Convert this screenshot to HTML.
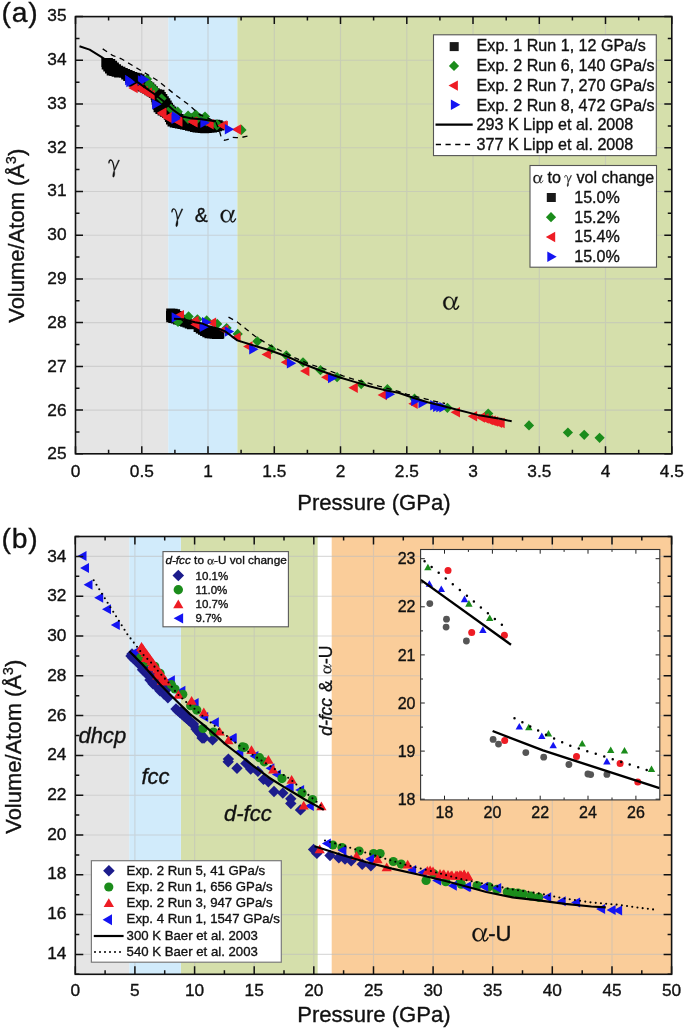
<!DOCTYPE html>
<html><head><meta charset="utf-8"><title>Figure</title>
<style>html,body{margin:0;padding:0;background:#fff;width:685px;height:1029px;overflow:hidden}svg{display:block;will-change:transform}text{stroke:#111;stroke-width:0.35px}</style>
</head><body>
<svg width="685" height="1029" viewBox="0 0 685 1029">
<rect x="75.5" y="16.6" width="92.8" height="437.2" fill="#e5e5e5"/>
<rect x="168.3" y="16.6" width="69.2" height="437.2" fill="#d1ebfb"/>
<rect x="237.4" y="16.6" width="434.4" height="437.2" fill="#d5dfab"/>
<g opacity="0.55"><path d="M141.8 16.6V453.8M208 16.6V453.8M274.3 16.6V453.8M340.5 16.6V453.8M406.8 16.6V453.8M473 16.6V453.8M539.3 16.6V453.8M605.5 16.6V453.8M75.5 410.1H671.8M75.5 366.4H671.8M75.5 322.6H671.8M75.5 278.9H671.8M75.5 235.2H671.8M75.5 191.5H671.8M75.5 147.8H671.8M75.5 104H671.8M75.5 60.3H671.8" stroke="rgb(190,190,190)" stroke-width="1.1" fill="none"/></g>
<path d="M103.3 69.6L103.3 71.5L105 71.5L105 73.4L106.7 73.4L106.7 75.4L109.2 75.4L109.2 75.9L111.6 75.9L111.6 76.8L114.1 76.8L114.1 77.5L119.1 77.5L119.1 77.8L121.1 77.8L121.1 78.1L121.2 78.1L121.2 79.5L123.2 79.5L123.2 81.1L125 81.1L125 82.9L126.8 82.9L126.8 84.8L128.5 84.8L128.5 86.7L130.7 86.7L130.7 88L133 88L133 89.2L135.3 89.2L135.3 90.4L137.6 90.4L137.6 91.5L139.9 91.5L139.9 92.6L142.3 92.6L142.3 93.8L144.4 93.8L144.4 95.2L146.6 95.2L146.6 96.6L148.8 96.6L148.8 98L150.6 98L150.6 99.7L151.2 99.7L151.2 102.2L151.7 102.2L151.7 104.7L152.3 104.7L152.3 107.3L152.9 107.3L152.9 109.8L153.6 109.8L153.6 112.2L155.4 112.2L155.4 114.1L157.6 114.1L157.6 115.4L159.9 115.4L159.9 116.7L162.1 116.7L162.1 118L163.8 118L163.8 119.8L164.9 119.8L164.9 122.1L166 122.1L166 124.5L167.5 124.5L167.5 126.6L169.8 126.6L169.8 127.5L172.3 127.5L172.3 128.1L174.8 128.1L174.8 128.6L177.4 128.6L177.4 129.1L179.9 129.1L179.9 129.6L182.4 129.6L182.4 130.1L185 130.1L185 130.7L187.5 130.7L187.5 131.3L190 131.3L190 132L192.5 132L192.5 132.5L195.1 132.5L195.1 132.8L197.7 132.8L197.7 133L200.2 133L200.2 133.2L209.2 133.2L209.2 133L211.8 133L211.8 132.7L214.4 132.7L214.4 132.4L217 132.4L217 131.9L219.5 131.9L219.5 131.3L222 131.3L222 130.6L224.5 130.6L224.5 121.6L222.7 121.6L222.7 120.2L220.2 120.2L220.2 119.7L210.2 119.7L210.2 118.5L208 118.5L208 117.1L205.8 117.1L205.8 115.8L203.6 115.8L203.6 114.5L201.1 114.5L201.1 113.8L198.6 113.8L198.6 113.6L189.6 113.6L189.6 114.3L187.1 114.3L187.1 115L185.9 115L185.9 114.9L183.7 114.9L183.7 113.9L181.8 113.9L181.8 112.1L180 112.1L180 110.2L178.2 110.2L178.2 108.4L176.3 108.4L176.3 106.6L174.5 106.6L174.5 104.8L173 104.8L173 102.7L171.7 102.7L171.7 100.4L170.3 100.4L170.3 98.3L168.8 98.3L168.8 96.2L167.3 96.2L167.3 94.1L165.8 94.1L165.8 91.9L164.5 91.9L164.5 89.8L161.9 89.8L161.9 89.3L159.7 89.3L159.7 88.2L157.9 88.2L157.9 86.3L156.2 86.3L156.2 84.4L154.3 84.4L154.3 82.6L152.2 82.6L152.2 81.1L150.2 81.1L150.2 79.5L148.1 79.5L148.1 77.9L146.3 77.9L146.3 76.1L144.5 76.1L144.5 74.2L142.3 74.2L142.3 73.2L139.7 73.2L139.7 72.8L137.3 72.8L137.3 72L134.8 72L134.8 71L132.5 71L132.5 70L130.1 70L130.1 69.1L128.1 69.1L128.1 68.8L127.7 68.8L127.7 68L125.4 68L125.4 66.8L123.1 66.8L123.1 65.7L121 65.7L121 64.2L118.9 64.2L118.9 62.6L117.1 62.6L117.1 60.8L115.2 60.8L115.2 59.1L112.9 59.1L112.9 58.1L110.3 58.1L110.3 58L101.3 58L101.3 67L101.7 67L101.7 69.6L103.3 69.6Z" fill="#000000"/>
<path d="M166 319.9L166.2 319.9L166.2 322.3L168.3 322.3L168.3 323.1L170.8 323.1L170.8 323.6L173.1 323.6L173.1 324.4L175.5 324.4L175.5 325.1L177.9 325.1L177.9 325.9L180.2 325.9L180.2 326.7L182.5 326.7L182.5 327.6L184.7 327.6L184.7 328.2L184.9 328.2L184.9 328.5L187 328.5L187 329.3L193.6 329.3L193.6 332.1L195.8 332.1L195.8 333.4L198 333.4L198 334.7L200.1 334.7L200.1 335.9L202.3 335.9L202.3 337.3L204.5 337.3L204.5 338.3L207.1 338.3L207.1 338.6L209.6 338.6L209.6 338.8L212.1 338.8L212.1 339.1L223.6 339.1L223.6 338.4L224.3 338.4L224.3 329.4L222 329.4L222 328.5L219.6 328.5L219.6 327.8L217.1 327.8L217.1 327.4L214.6 327.4L214.6 326.9L212.1 326.9L212.1 326.4L209.7 326.4L209.7 325.9L207.3 325.9L207.3 325L205 325L205 324L202.6 324L202.6 323.1L196 323.1L196 320.3L193.9 320.3L193.9 319.5L193.7 319.5L193.7 319.2L191.5 319.2L191.5 318.1L189.3 318.1L189.3 317L187 317L187 315.9L184.8 315.9L184.8 314.8L183.2 314.8L183.2 313L181.8 313L181.8 310.9L180.1 310.9L180.1 309.2L177.7 309.2L177.7 308.7L175.2 308.7L175.2 308.4L166.2 308.4L166.2 310.9L166 310.9L166 319.9Z" fill="#000000"/>
<path d="M147 73.9L152.1 79L147 84.1L141.9 79Z" fill="#1b8c1b"/>
<path d="M149.2 79.1L154.3 84.2L149.2 89.3L144.1 84.2Z" fill="#1b8c1b"/>
<path d="M154 83.9L159.1 89L154 94.1L148.9 89Z" fill="#1b8c1b"/>
<path d="M161.6 93.4L166.7 98.5L161.6 103.6L156.5 98.5Z" fill="#1b8c1b"/>
<path d="M171 103.8L176.1 108.9L171 114L165.9 108.9Z" fill="#1b8c1b"/>
<path d="M177.7 106.6L182.8 111.7L177.7 116.8L172.6 111.7Z" fill="#1b8c1b"/>
<path d="M188.1 110.4L193.2 115.5L188.1 120.6L183 115.5Z" fill="#1b8c1b"/>
<path d="M195.7 109.5L200.8 114.6L195.7 119.7L190.6 114.6Z" fill="#1b8c1b"/>
<path d="M205 111.4L210.1 116.5L205 121.6L199.9 116.5Z" fill="#1b8c1b"/>
<path d="M217 119.2L222.1 124.3L217 129.4L211.9 124.3Z" fill="#1b8c1b"/>
<path d="M241.5 124.8L246.6 129.9L241.5 135L236.4 129.9Z" fill="#1b8c1b"/>
<path d="M188.6 311.3L193.7 316.4L188.6 321.5L183.5 316.4Z" fill="#1b8c1b"/>
<path d="M197.4 314.2L202.5 319.3L197.4 324.4L192.3 319.3Z" fill="#1b8c1b"/>
<path d="M206.7 315.3L211.8 320.4L206.7 325.5L201.6 320.4Z" fill="#1b8c1b"/>
<path d="M217.2 318.8L222.3 323.9L217.2 329L212.1 323.9Z" fill="#1b8c1b"/>
<path d="M226.6 322.9L231.7 328L226.6 333.1L221.5 328Z" fill="#1b8c1b"/>
<path d="M237.7 328.8L242.8 333.9L237.7 339L232.6 333.9Z" fill="#1b8c1b"/>
<path d="M178 316.9L183.1 322L178 327.1L172.9 322Z" fill="#1b8c1b"/>
<path d="M257.4 336.2L262.5 341.3L257.4 346.4L252.3 341.3Z" fill="#1b8c1b"/>
<path d="M271.4 344.1L276.5 349.2L271.4 354.3L266.3 349.2Z" fill="#1b8c1b"/>
<path d="M286.3 350.2L291.4 355.3L286.3 360.4L281.2 355.3Z" fill="#1b8c1b"/>
<path d="M303 357.2L308.1 362.3L303 367.4L297.9 362.3Z" fill="#1b8c1b"/>
<path d="M320.5 365.1L325.6 370.2L320.5 375.3L315.4 370.2Z" fill="#1b8c1b"/>
<path d="M337.1 372.1L342.2 377.2L337.1 382.3L332 377.2Z" fill="#1b8c1b"/>
<path d="M361.2 379L366.3 384.1L361.2 389.2L356.1 384.1Z" fill="#1b8c1b"/>
<path d="M387.4 384.1L392.5 389.2L387.4 394.3L382.3 389.2Z" fill="#1b8c1b"/>
<path d="M414.5 393.6L419.6 398.7L414.5 403.8L409.4 398.7Z" fill="#1b8c1b"/>
<path d="M447.4 402.7L452.5 407.8L447.4 412.9L442.3 407.8Z" fill="#1b8c1b"/>
<path d="M488.2 408.5L493.3 413.6L488.2 418.7L483.1 413.6Z" fill="#1b8c1b"/>
<path d="M529 420.3L534.1 425.4L529 430.5L523.9 425.4Z" fill="#1b8c1b"/>
<path d="M567.9 427.4L573 432.5L567.9 437.6L562.8 432.5Z" fill="#1b8c1b"/>
<path d="M584.2 429.7L589.3 434.8L584.2 439.9L579.1 434.8Z" fill="#1b8c1b"/>
<path d="M599.6 432.7L604.7 437.8L599.6 442.9L594.5 437.8Z" fill="#1b8c1b"/>
<path d="M188 113.7L193.1 118.8L188 123.9L182.9 118.8Z" fill="#1b8c1b"/>
<path d="M197.2 113.7L202.3 118.8L197.2 123.9L192.1 118.8Z" fill="#1b8c1b"/>
<path d="M206.4 116.3L211.5 121.4L206.4 126.5L201.3 121.4Z" fill="#1b8c1b"/>
<path d="M216.9 120.2L222 125.3L216.9 130.4L211.8 125.3Z" fill="#1b8c1b"/>
<path d="M128.3 88L137.7 82.8L137.7 93.2Z" fill="#ee1c24"/>
<path d="M134.1 88L143.5 82.8L143.5 93.2Z" fill="#ee1c24"/>
<path d="M138.3 91L147.7 85.8L147.7 96.2Z" fill="#ee1c24"/>
<path d="M142.6 92.8L152 87.6L152 98Z" fill="#ee1c24"/>
<path d="M145.3 95L154.7 89.8L154.7 100.2Z" fill="#ee1c24"/>
<path d="M156.9 112.7L166.3 107.5L166.3 117.9Z" fill="#ee1c24"/>
<path d="M162.6 117.4L172 112.2L172 122.6Z" fill="#ee1c24"/>
<path d="M173 121.2L182.4 116L182.4 126.4Z" fill="#ee1c24"/>
<path d="M188.2 122.2L197.6 117L197.6 127.4Z" fill="#ee1c24"/>
<path d="M218.5 126L227.9 120.8L227.9 131.2Z" fill="#ee1c24"/>
<path d="M231.7 129.5L241.1 124.3L241.1 134.7Z" fill="#ee1c24"/>
<path d="M174.6 315.2L184 310L184 320.4Z" fill="#ee1c24"/>
<path d="M189.2 321L198.6 315.8L198.6 326.2Z" fill="#ee1c24"/>
<path d="M190.3 324.5L199.7 319.3L199.7 329.7Z" fill="#ee1c24"/>
<path d="M206.7 322.8L216.1 317.6L216.1 328Z" fill="#ee1c24"/>
<path d="M218.9 329.8L228.3 324.6L228.3 335Z" fill="#ee1c24"/>
<path d="M231.2 337.4L240.6 332.2L240.6 342.6Z" fill="#ee1c24"/>
<path d="M243.1 346.5L252.5 341.3L252.5 351.7Z" fill="#ee1c24"/>
<path d="M261.5 354.4L270.9 349.2L270.9 359.6Z" fill="#ee1c24"/>
<path d="M280.7 362.3L290.1 357.1L290.1 367.5Z" fill="#ee1c24"/>
<path d="M300 371.1L309.4 365.9L309.4 376.3Z" fill="#ee1c24"/>
<path d="M321 377.2L330.4 372L330.4 382.4Z" fill="#ee1c24"/>
<path d="M348.4 387.7L357.8 382.5L357.8 392.9Z" fill="#ee1c24"/>
<path d="M377.6 395L387 389.8L387 400.2Z" fill="#ee1c24"/>
<path d="M408.3 403.8L417.7 398.6L417.7 409Z" fill="#ee1c24"/>
<path d="M450.6 412.3L460 407.1L460 417.5Z" fill="#ee1c24"/>
<path d="M467.7 416.2L477.1 411L477.1 421.4Z" fill="#ee1c24"/>
<path d="M475.6 417.5L485 412.3L485 422.7Z" fill="#ee1c24"/>
<path d="M479.3 418.5L488.7 413.3L488.7 423.7Z" fill="#ee1c24"/>
<path d="M483.5 420.1L492.9 414.9L492.9 425.3Z" fill="#ee1c24"/>
<path d="M486.3 420.8L495.7 415.6L495.7 426Z" fill="#ee1c24"/>
<path d="M488.7 421.5L498.1 416.3L498.1 426.7Z" fill="#ee1c24"/>
<path d="M492.7 422.8L502.1 417.6L502.1 428Z" fill="#ee1c24"/>
<path d="M495.3 423L504.7 417.8L504.7 428.2Z" fill="#ee1c24"/>
<path d="M157 113.8L166.4 108.6L166.4 119Z" fill="#ee1c24"/>
<path d="M162.3 117.7L171.7 112.5L171.7 122.9Z" fill="#ee1c24"/>
<path d="M172.8 121.6L182.2 116.4L182.2 126.8Z" fill="#ee1c24"/>
<path d="M187.2 121.6L196.6 116.4L196.6 126.8Z" fill="#ee1c24"/>
<path d="M204.3 124.2L213.7 119L213.7 129.4Z" fill="#ee1c24"/>
<path d="M217.3 125.5L226.7 120.3L226.7 130.7Z" fill="#ee1c24"/>
<path d="M134.5 80L125.1 74.8L125.1 85.2Z" fill="#1414f2"/>
<path d="M135.7 82L126.3 76.8L126.3 87.2Z" fill="#1414f2"/>
<path d="M147.3 80.4L137.9 75.2L137.9 85.6Z" fill="#1414f2"/>
<path d="M149.7 79.5L140.3 74.3L140.3 84.7Z" fill="#1414f2"/>
<path d="M161.5 104.2L152.1 99L152.1 109.4Z" fill="#1414f2"/>
<path d="M181.4 116.5L172 111.3L172 121.7Z" fill="#1414f2"/>
<path d="M234.2 129.2L224.8 124L224.8 134.4Z" fill="#1414f2"/>
<path d="M181.1 317.5L171.7 312.3L171.7 322.7Z" fill="#1414f2"/>
<path d="M211.4 322.2L202 317L202 327.4Z" fill="#1414f2"/>
<path d="M209.1 326.9L199.7 321.7L199.7 332.1Z" fill="#1414f2"/>
<path d="M234.2 331.5L224.8 326.3L224.8 336.7Z" fill="#1414f2"/>
<path d="M258.6 349.2L249.2 344L249.2 354.4Z" fill="#1414f2"/>
<path d="M296.3 363.2L286.9 358L286.9 368.4Z" fill="#1414f2"/>
<path d="M337.4 378.1L328 372.9L328 383.3Z" fill="#1414f2"/>
<path d="M395.1 394.3L385.7 389.1L385.7 399.5Z" fill="#1414f2"/>
<path d="M420.6 400.9L411.2 395.7L411.2 406.1Z" fill="#1414f2"/>
<path d="M427.9 403.1L418.5 397.9L418.5 408.3Z" fill="#1414f2"/>
<path d="M439.6 405.3L430.2 400.1L430.2 410.5Z" fill="#1414f2"/>
<path d="M442.5 406.7L433.1 401.5L433.1 411.9Z" fill="#1414f2"/>
<path d="M445.7 407L436.3 401.8L436.3 412.2Z" fill="#1414f2"/>
<path d="M448.7 407.2L439.3 402L439.3 412.4Z" fill="#1414f2"/>
<path d="M180.9 118.8L171.5 113.6L171.5 124Z" fill="#1414f2"/>
<path d="M209.8 122.7L200.4 117.5L200.4 127.9Z" fill="#1414f2"/>
<polyline points="79.5,46.2 89.6,49.6 101.3,56.9 113,64.5 124.6,72.8 135,80.4 144.5,87.1 154,93.7 163.5,101.3 173,109.8 182.4,116.5 191.9,118.4 201.3,119.3 211.8,120.8 216,121.6" fill="none" stroke="#000" stroke-width="2" stroke-linejoin="round"/>
<polyline points="174,318.7 183.4,319.3 195,322.2 202,323.4 209,326.3 218.4,328.6 225.4,331.5 237.3,340.4 251.3,344.8 268.8,350 286.3,356.2 303.8,364 321.4,371 340,377.5 354.6,381.9 369.2,386.3 383.8,389.9 398.4,392.8 413,397.7 427.6,402.3 440,405.3 451.4,408.3 477.6,414.9 500,418.8 511.7,421.3" fill="none" stroke="#000" stroke-width="2" stroke-linejoin="round"/>
<polyline points="102.7,48.9 112.5,55.3 121.3,58.8 130,64 138.8,69.3 147.6,74.5 157.5,80.5 165,86.5 175,94.5 189,105 199.6,114.7 210,119 216,122.5 219.2,130 221,136.5 224.5,140.3 228,139.5 231.5,137.3 236.3,137.6 241,137.6 246.2,136.3 251,135.4" fill="none" stroke="#000" stroke-width="1.3" stroke-dasharray="5.2 4.5"/>
<polyline points="228.5,317.1 237.3,322 246,329 254.8,336 268.8,344.8 282.8,351.8 295.1,357.9 309.1,364 323.1,368.4 337.1,373.7 342.9,375.8 351.7,378.7 369.2,383.4 379.4,386.3 398.4,391.4 407.2,394.3 426.1,399.1 436.4,401.6 445,403.5" fill="none" stroke="#000" stroke-width="1.3" stroke-dasharray="5.2 4.5"/>
<g fill="#111" stroke="#111" stroke-width="0.30" transform="translate(108.3,159.6) scale(1.000)"><path d="M0.7 3.8C0.4 1.6 1.4 0.4 2.5 0.4C4.2 0.4 5.2 3.5 6.1 10.5" fill="none" stroke="#111" stroke-width="1.3"/><path d="M10.1 0.3L11.3 0.6L6.6 10.6L5.8 10.4Z"/><path d="M5.9 10.2C6.9 12.5 6.6 17.6 5.0 17.6C3.8 17.6 4.4 14 5.9 10.2Z"/></g>
<g fill="#111" stroke="#111" stroke-width="0.29" transform="translate(171.3,208.5) scale(1.030)"><path d="M0.7 3.8C0.4 1.6 1.4 0.4 2.5 0.4C4.2 0.4 5.2 3.5 6.1 10.5" fill="none" stroke="#111" stroke-width="1.3"/><path d="M10.1 0.3L11.3 0.6L6.6 10.6L5.8 10.4Z"/><path d="M5.9 10.2C6.9 12.5 6.6 17.6 5.0 17.6C3.8 17.6 4.4 14 5.9 10.2Z"/></g>
<text x="201.3" y="221.6" font-family="'Liberation Sans', sans-serif" font-size="19.5" text-anchor="middle" fill="#111">&amp;</text>
<g fill="#111" stroke="#111" stroke-width="0.31" transform="translate(220.6,209.7) scale(0.965)"><path fill-rule="evenodd" d="M0 6.6a5.4 6.6 0 1 0 10.8 0a5.4 6.6 0 1 0 -10.8 0ZM2.2 6.6a3.8 5.6 0 1 0 7.6 0a3.8 5.6 0 1 0 -7.6 0Z"/><path d="M12.4 0.5L14.6 0.3L11.5 8.6L10.3 8.3Z"/><path d="M10.9 8.2C10.3 10.5 10.9 12.7 12.3 12.7C13.5 12.7 14.6 11.5 15.5 9.6" fill="none" stroke="#111" stroke-width="1.4" stroke-linecap="round"/></g>
<g fill="#111" stroke="#111" stroke-width="0.30" transform="translate(443.2,296.5) scale(1.000)"><path fill-rule="evenodd" d="M0 6.6a5.4 6.6 0 1 0 10.8 0a5.4 6.6 0 1 0 -10.8 0ZM2.2 6.6a3.8 5.6 0 1 0 7.6 0a3.8 5.6 0 1 0 -7.6 0Z"/><path d="M12.4 0.5L14.6 0.3L11.5 8.6L10.3 8.3Z"/><path d="M10.9 8.2C10.3 10.5 10.9 12.7 12.3 12.7C13.5 12.7 14.6 11.5 15.5 9.6" fill="none" stroke="#111" stroke-width="1.4" stroke-linecap="round"/></g>
<rect x="433.5" y="34.8" width="222.8" height="120.8" fill="#fff" stroke="#555" stroke-width="1.1"/>
<text x="476.6" y="51.4" font-family="'Liberation Sans', sans-serif" font-size="16.1" text-anchor="start" fill="#111">Exp. 1 Run 1, 12 GPa/s</text>
<text x="476.6" y="71.1" font-family="'Liberation Sans', sans-serif" font-size="16.1" text-anchor="start" fill="#111">Exp. 2 Run 6, 140 GPa/s</text>
<text x="476.6" y="90.8" font-family="'Liberation Sans', sans-serif" font-size="16.1" text-anchor="start" fill="#111">Exp. 2 Run 7, 270 GPa/s</text>
<text x="476.6" y="110.5" font-family="'Liberation Sans', sans-serif" font-size="16.1" text-anchor="start" fill="#111">Exp. 2 Run 8, 472 GPa/s</text>
<text x="476.6" y="130.2" font-family="'Liberation Sans', sans-serif" font-size="16.1" text-anchor="start" fill="#111">293 K Lipp et al. 2008</text>
<text x="476.6" y="149.9" font-family="'Liberation Sans', sans-serif" font-size="16.1" text-anchor="start" fill="#111">377 K Lipp et al. 2008</text>
<rect x="449.7" y="42.1" width="9" height="9" fill="#1a1a1a"/>
<path d="M454 60.8L459.1 65.9L454 71L448.9 65.9Z" fill="#1b8c1b"/>
<path d="M448.5 85.6L457.9 80.4L457.9 90.8Z" fill="#ee1c24"/>
<path d="M460.3 104.8L450.9 99.6L450.9 110Z" fill="#1414f2"/>
<path d="M435.5 124.7H472.7" stroke="#000" stroke-width="2.2"/>
<path d="M435.8 144.6H470.2" stroke="#000" stroke-width="1.5" stroke-dasharray="5.2 4.5"/>
<rect x="530" y="165.5" width="126.5" height="101.7" fill="#fff" stroke="#555" stroke-width="1.1"/>
<g fill="#111" stroke="#111" stroke-width="0.49" transform="translate(533.4,175.1) scale(0.610)"><path fill-rule="evenodd" d="M0 6.6a5.4 6.6 0 1 0 10.8 0a5.4 6.6 0 1 0 -10.8 0ZM2.2 6.6a3.8 5.6 0 1 0 7.6 0a3.8 5.6 0 1 0 -7.6 0Z"/><path d="M12.4 0.5L14.6 0.3L11.5 8.6L10.3 8.3Z"/><path d="M10.9 8.2C10.3 10.5 10.9 12.7 12.3 12.7C13.5 12.7 14.6 11.5 15.5 9.6" fill="none" stroke="#111" stroke-width="1.4" stroke-linecap="round"/></g>
<text x="547.6" y="183.3" font-family="'Liberation Sans', sans-serif" font-size="16.1" text-anchor="start" fill="#111">to</text>
<g fill="#111" stroke="#111" stroke-width="0.46" transform="translate(564.3,175.1) scale(0.650)"><path d="M0.7 3.8C0.4 1.6 1.4 0.4 2.5 0.4C4.2 0.4 5.2 3.5 6.1 10.5" fill="none" stroke="#111" stroke-width="1.3"/><path d="M10.1 0.3L11.3 0.6L6.6 10.6L5.8 10.4Z"/><path d="M5.9 10.2C6.9 12.5 6.6 17.6 5.0 17.6C3.8 17.6 4.4 14 5.9 10.2Z"/></g>
<text x="576.4" y="183.3" font-family="'Liberation Sans', sans-serif" font-size="16.1" text-anchor="start" fill="#111">vol change</text>
<text x="574.2" y="202.8" font-family="'Liberation Sans', sans-serif" font-size="16.1" text-anchor="start" fill="#111">15.0%</text>
<text x="574.2" y="222.6" font-family="'Liberation Sans', sans-serif" font-size="16.1" text-anchor="start" fill="#111">15.2%</text>
<text x="574.2" y="242.4" font-family="'Liberation Sans', sans-serif" font-size="16.1" text-anchor="start" fill="#111">15.4%</text>
<text x="574.2" y="262.2" font-family="'Liberation Sans', sans-serif" font-size="16.1" text-anchor="start" fill="#111">15.0%</text>
<rect x="546.8" y="193" width="9" height="9" fill="#1a1a1a"/>
<path d="M551 212.1L556.1 217.2L551 222.3L545.9 217.2Z" fill="#1b8c1b"/>
<path d="M545.8 237L555.2 231.8L555.2 242.2Z" fill="#ee1c24"/>
<path d="M556.7 256.7L547.3 251.5L547.3 261.9Z" fill="#1414f2"/>
<path d="M75.5 453.8v-7.5M75.5 16.6v7.5M108.6 453.8v-4M108.6 16.6v4M141.8 453.8v-7.5M141.8 16.6v7.5M174.9 453.8v-4M174.9 16.6v4M208 453.8v-7.5M208 16.6v7.5M241.1 453.8v-4M241.1 16.6v4M274.3 453.8v-7.5M274.3 16.6v7.5M307.4 453.8v-4M307.4 16.6v4M340.5 453.8v-7.5M340.5 16.6v7.5M373.6 453.8v-4M373.6 16.6v4M406.8 453.8v-7.5M406.8 16.6v7.5M439.9 453.8v-4M439.9 16.6v4M473 453.8v-7.5M473 16.6v7.5M506.2 453.8v-4M506.2 16.6v4M539.3 453.8v-7.5M539.3 16.6v7.5M572.4 453.8v-4M572.4 16.6v4M605.5 453.8v-7.5M605.5 16.6v7.5M638.7 453.8v-4M638.7 16.6v4M671.8 453.8v-7.5M671.8 16.6v7.5M75.5 453.8h7.5M671.8 453.8h-7.5M75.5 431.9h4M671.8 431.9h-4M75.5 410.1h7.5M671.8 410.1h-7.5M75.5 388.2h4M671.8 388.2h-4M75.5 366.4h7.5M671.8 366.4h-7.5M75.5 344.5h4M671.8 344.5h-4M75.5 322.6h7.5M671.8 322.6h-7.5M75.5 300.8h4M671.8 300.8h-4M75.5 278.9h7.5M671.8 278.9h-7.5M75.5 257.1h4M671.8 257.1h-4M75.5 235.2h7.5M671.8 235.2h-7.5M75.5 213.3h4M671.8 213.3h-4M75.5 191.5h7.5M671.8 191.5h-7.5M75.5 169.6h4M671.8 169.6h-4M75.5 147.8h7.5M671.8 147.8h-7.5M75.5 125.9h4M671.8 125.9h-4M75.5 104h7.5M671.8 104h-7.5M75.5 82.2h4M671.8 82.2h-4M75.5 60.3h7.5M671.8 60.3h-7.5M75.5 38.5h4M671.8 38.5h-4M75.5 16.6h7.5M671.8 16.6h-7.5" stroke="#111" stroke-width="1.5" fill="none"/>
<rect x="75.5" y="16.6" width="596.3" height="437.2" fill="none" stroke="#111" stroke-width="1.6"/>
<text x="66.5" y="459.4" font-family="'Liberation Sans', sans-serif" font-size="17.3" text-anchor="end" fill="#111">25</text>
<text x="66.5" y="415.6" font-family="'Liberation Sans', sans-serif" font-size="17.3" text-anchor="end" fill="#111">26</text>
<text x="66.5" y="371.7" font-family="'Liberation Sans', sans-serif" font-size="17.3" text-anchor="end" fill="#111">27</text>
<text x="66.5" y="327.9" font-family="'Liberation Sans', sans-serif" font-size="17.3" text-anchor="end" fill="#111">28</text>
<text x="66.5" y="284" font-family="'Liberation Sans', sans-serif" font-size="17.3" text-anchor="end" fill="#111">29</text>
<text x="66.5" y="240.2" font-family="'Liberation Sans', sans-serif" font-size="17.3" text-anchor="end" fill="#111">30</text>
<text x="66.5" y="196.4" font-family="'Liberation Sans', sans-serif" font-size="17.3" text-anchor="end" fill="#111">31</text>
<text x="66.5" y="152.5" font-family="'Liberation Sans', sans-serif" font-size="17.3" text-anchor="end" fill="#111">32</text>
<text x="66.5" y="108.7" font-family="'Liberation Sans', sans-serif" font-size="17.3" text-anchor="end" fill="#111">33</text>
<text x="66.5" y="64.8" font-family="'Liberation Sans', sans-serif" font-size="17.3" text-anchor="end" fill="#111">34</text>
<text x="66.5" y="21" font-family="'Liberation Sans', sans-serif" font-size="17.3" text-anchor="end" fill="#111">35</text>
<text x="75.5" y="477.4" font-family="'Liberation Sans', sans-serif" font-size="17.3" text-anchor="middle" fill="#111">0</text>
<text x="141.8" y="477.4" font-family="'Liberation Sans', sans-serif" font-size="17.3" text-anchor="middle" fill="#111">0.5</text>
<text x="208" y="477.4" font-family="'Liberation Sans', sans-serif" font-size="17.3" text-anchor="middle" fill="#111">1</text>
<text x="274.3" y="477.4" font-family="'Liberation Sans', sans-serif" font-size="17.3" text-anchor="middle" fill="#111">1.5</text>
<text x="340.5" y="477.4" font-family="'Liberation Sans', sans-serif" font-size="17.3" text-anchor="middle" fill="#111">2</text>
<text x="406.8" y="477.4" font-family="'Liberation Sans', sans-serif" font-size="17.3" text-anchor="middle" fill="#111">2.5</text>
<text x="473" y="477.4" font-family="'Liberation Sans', sans-serif" font-size="17.3" text-anchor="middle" fill="#111">3</text>
<text x="539.3" y="477.4" font-family="'Liberation Sans', sans-serif" font-size="17.3" text-anchor="middle" fill="#111">3.5</text>
<text x="605.5" y="477.4" font-family="'Liberation Sans', sans-serif" font-size="17.3" text-anchor="middle" fill="#111">4</text>
<text x="671.8" y="477.4" font-family="'Liberation Sans', sans-serif" font-size="17.3" text-anchor="middle" fill="#111">4.5</text>
<text x="373.9" y="510" font-family="'Liberation Sans', sans-serif" font-size="22.1" text-anchor="middle" fill="#111">Pressure (GPa)</text>
<text transform="translate(23.9,235.8) rotate(-90)" x="0" y="0" font-family="'Liberation Sans', sans-serif" font-size="22" text-anchor="middle" fill="#111">Volume/Atom (&#197;<tspan font-size="14" dy="-8">3</tspan><tspan dy="8">)</tspan></text>
<text x="1.6" y="21.6" font-family="'Liberation Sans', sans-serif" font-size="28.3" text-anchor="start" fill="#111" letter-spacing="0.8">(a)</text>
<rect x="75.3" y="536.5" width="54" height="437.8" fill="#e5e5e5"/>
<rect x="129.3" y="536.5" width="51.6" height="437.8" fill="#d1ebfb"/>
<rect x="181" y="536.5" width="136.8" height="437.8" fill="#d5dfab"/>
<rect x="317.8" y="536.5" width="14" height="437.8" fill="#ffffff"/>
<rect x="331.7" y="536.5" width="339.9" height="437.8" fill="#facd9a"/>
<g opacity="0.55"><path d="M134.9 536.5V974.3M194.6 536.5V974.3M254.2 536.5V974.3M313.8 536.5V974.3M373.5 536.5V974.3M433.1 536.5V974.3M492.7 536.5V974.3M552.3 536.5V974.3M612 536.5V974.3M75.3 954.4H671.6M75.3 914.6H671.6M75.3 874.8H671.6M75.3 835H671.6M75.3 795.2H671.6M75.3 755.4H671.6M75.3 715.6H671.6M75.3 675.8H671.6M75.3 636H671.6M75.3 596.2H671.6M75.3 556.4H671.6" stroke="rgb(190,190,190)" stroke-width="1.1" fill="none"/></g>
<path d="M132 648.3L137.7 654L132 659.7L126.3 654Z" fill="#1c1c8c"/>
<path d="M135 651.3L140.7 657L135 662.7L129.3 657Z" fill="#1c1c8c"/>
<path d="M139 655.3L144.7 661L139 666.7L133.3 661Z" fill="#1c1c8c"/>
<path d="M142.5 664.1L148.2 669.8L142.5 675.5L136.8 669.8Z" fill="#1c1c8c"/>
<path d="M145 665.3L150.7 671L145 676.7L139.3 671Z" fill="#1c1c8c"/>
<path d="M147.8 669.3L153.5 675L147.8 680.7L142.1 675Z" fill="#1c1c8c"/>
<path d="M150 674.3L155.7 680L150 685.7L144.3 680Z" fill="#1c1c8c"/>
<path d="M153 678.1L158.7 683.8L153 689.5L147.3 683.8Z" fill="#1c1c8c"/>
<path d="M156 680.3L161.7 686L156 691.7L150.3 686Z" fill="#1c1c8c"/>
<path d="M160 685.1L165.7 690.8L160 696.5L154.3 690.8Z" fill="#1c1c8c"/>
<path d="M164 688.3L169.7 694L164 699.7L158.3 694Z" fill="#1c1c8c"/>
<path d="M167.9 692.1L173.6 697.8L167.9 703.5L162.2 697.8Z" fill="#1c1c8c"/>
<path d="M181 706.1L186.7 711.8L181 717.5L175.3 711.8Z" fill="#1c1c8c"/>
<path d="M186.3 709.6L192 715.3L186.3 721L180.6 715.3Z" fill="#1c1c8c"/>
<path d="M193.3 718.4L199 724.1L193.3 729.8L187.6 724.1Z" fill="#1c1c8c"/>
<path d="M198.6 725.4L204.3 731.1L198.6 736.8L192.9 731.1Z" fill="#1c1c8c"/>
<path d="M202.1 732.4L207.8 738.1L202.1 743.8L196.4 738.1Z" fill="#1c1c8c"/>
<path d="M212.6 734.2L218.3 739.9L212.6 745.6L206.9 739.9Z" fill="#1c1c8c"/>
<path d="M228.4 753.4L234.1 759.1L228.4 764.8L222.7 759.1Z" fill="#1c1c8c"/>
<path d="M228.2 756.1L233.9 761.8L228.2 767.5L222.5 761.8Z" fill="#1c1c8c"/>
<path d="M237 762.5L242.7 768.2L237 773.9L231.3 768.2Z" fill="#1c1c8c"/>
<path d="M245.9 757.7L251.6 763.4L245.9 769.1L240.2 763.4Z" fill="#1c1c8c"/>
<path d="M250.7 763.3L256.4 769L250.7 774.7L245 769Z" fill="#1c1c8c"/>
<path d="M257.9 765.7L263.6 771.4L257.9 777.1L252.2 771.4Z" fill="#1c1c8c"/>
<path d="M263.5 773.7L269.2 779.4L263.5 785.1L257.8 779.4Z" fill="#1c1c8c"/>
<path d="M268.4 776.1L274.1 781.8L268.4 787.5L262.7 781.8Z" fill="#1c1c8c"/>
<path d="M274 785.8L279.7 791.5L274 797.2L268.3 791.5Z" fill="#1c1c8c"/>
<path d="M282.8 787.4L288.5 793.1L282.8 798.8L277.1 793.1Z" fill="#1c1c8c"/>
<path d="M290.8 793L296.5 798.7L290.8 804.4L285.1 798.7Z" fill="#1c1c8c"/>
<path d="M290.8 797.8L296.5 803.5L290.8 809.2L285.1 803.5Z" fill="#1c1c8c"/>
<path d="M300.5 804.2L306.2 809.9L300.5 815.6L294.8 809.9Z" fill="#1c1c8c"/>
<path d="M313.6 843.8L319.3 849.5L313.6 855.2L307.9 849.5Z" fill="#1c1c8c"/>
<path d="M316.9 847.7L322.6 853.4L316.9 859.1L311.2 853.4Z" fill="#1c1c8c"/>
<path d="M330 849.8L335.7 855.5L330 861.2L324.3 855.5Z" fill="#1c1c8c"/>
<path d="M338.8 852L344.5 857.7L338.8 863.4L333.1 857.7Z" fill="#1c1c8c"/>
<path d="M345 853.3L350.7 859L345 864.7L339.3 859Z" fill="#1c1c8c"/>
<path d="M351.2 855L356.9 860.7L351.2 866.4L345.5 860.7Z" fill="#1c1c8c"/>
<path d="M362.2 858.6L367.9 864.3L362.2 870L356.5 864.3Z" fill="#1c1c8c"/>
<path d="M370.9 860.1L376.6 865.8L370.9 871.5L365.2 865.8Z" fill="#1c1c8c"/>
<path d="M131 650.3L136.7 656L131 661.7L125.3 656Z" fill="#1c1c8c"/>
<path d="M132.8 652L138.4 657.7L132.8 663.4L127 657.7Z" fill="#1c1c8c"/>
<path d="M134.5 653.7L140.2 659.4L134.5 665.1L128.8 659.4Z" fill="#1c1c8c"/>
<path d="M136.2 655.4L141.9 661.1L136.2 666.8L130.6 661.1Z" fill="#1c1c8c"/>
<path d="M138 657.1L143.7 662.8L138 668.5L132.3 662.8Z" fill="#1c1c8c"/>
<path d="M139.8 658.8L145.4 664.5L139.8 670.2L134.1 664.5Z" fill="#1c1c8c"/>
<path d="M141.5 660.5L147.2 666.2L141.5 671.9L135.8 666.2Z" fill="#1c1c8c"/>
<path d="M143.2 662.2L148.9 667.9L143.2 673.6L137.6 667.9Z" fill="#1c1c8c"/>
<path d="M145 663.9L150.7 669.6L145 675.3L139.3 669.6Z" fill="#1c1c8c"/>
<path d="M146.8 665.6L152.4 671.3L146.8 677L141.1 671.3Z" fill="#1c1c8c"/>
<path d="M148.5 667.3L154.2 673L148.5 678.7L142.8 673Z" fill="#1c1c8c"/>
<path d="M150.2 669L155.9 674.7L150.2 680.4L144.6 674.7Z" fill="#1c1c8c"/>
<path d="M152 670.7L157.7 676.4L152 682.1L146.3 676.4Z" fill="#1c1c8c"/>
<path d="M153.8 672.4L159.4 678.1L153.8 683.8L148.1 678.1Z" fill="#1c1c8c"/>
<path d="M155.5 674.1L161.2 679.8L155.5 685.5L149.8 679.8Z" fill="#1c1c8c"/>
<path d="M157.2 675.8L162.9 681.5L157.2 687.2L151.6 681.5Z" fill="#1c1c8c"/>
<path d="M159 677.5L164.7 683.2L159 688.9L153.3 683.2Z" fill="#1c1c8c"/>
<path d="M160.8 679.2L166.4 684.9L160.8 690.6L155.1 684.9Z" fill="#1c1c8c"/>
<path d="M162.5 680.9L168.2 686.6L162.5 692.3L156.8 686.6Z" fill="#1c1c8c"/>
<path d="M164.2 682.6L169.9 688.3L164.2 694L158.6 688.3Z" fill="#1c1c8c"/>
<path d="M166 684.3L171.7 690L166 695.7L160.3 690Z" fill="#1c1c8c"/>
<path d="M176 703.3L181.7 709L176 714.7L170.3 709Z" fill="#1c1c8c"/>
<path d="M178.1 705.2L183.8 710.9L178.1 716.6L172.4 710.9Z" fill="#1c1c8c"/>
<path d="M180.2 707L185.9 712.8L180.2 718.5L174.6 712.8Z" fill="#1c1c8c"/>
<path d="M182.4 708.9L188.1 714.6L182.4 720.3L176.7 714.6Z" fill="#1c1c8c"/>
<path d="M184.5 710.8L190.2 716.5L184.5 722.2L178.8 716.5Z" fill="#1c1c8c"/>
<path d="M186.6 712.7L192.3 718.4L186.6 724.1L180.9 718.4Z" fill="#1c1c8c"/>
<path d="M188.8 714.5L194.4 720.2L188.8 726L183.1 720.2Z" fill="#1c1c8c"/>
<path d="M190.9 716.4L196.6 722.1L190.9 727.8L185.2 722.1Z" fill="#1c1c8c"/>
<path d="M193 718.3L198.7 724L193 729.7L187.3 724Z" fill="#1c1c8c"/>
<path d="M196 723.3L201.7 729L196 734.7L190.3 729Z" fill="#1c1c8c"/>
<path d="M198 725.5L203.7 731.2L198 737L192.3 731.2Z" fill="#1c1c8c"/>
<path d="M200 727.8L205.7 733.5L200 739.2L194.3 733.5Z" fill="#1c1c8c"/>
<path d="M202 730L207.7 735.8L202 741.5L196.3 735.8Z" fill="#1c1c8c"/>
<path d="M204 732.3L209.7 738L204 743.7L198.3 738Z" fill="#1c1c8c"/>
<path d="M77.5 556.1L86.5 551.1L86.5 561.1Z" fill="#1414f2"/>
<path d="M80.1 568L89 563L89 573Z" fill="#1414f2"/>
<path d="M83.6 584.7L92.5 579.8L92.5 589.7Z" fill="#1414f2"/>
<path d="M94.2 597.8L103.2 592.8L103.2 602.8Z" fill="#1414f2"/>
<path d="M102 609.2L111 604.2L111 614.2Z" fill="#1414f2"/>
<path d="M110.8 625L119.8 620L119.8 630Z" fill="#1414f2"/>
<path d="M130.2 652L139 647L139 657Z" fill="#1414f2"/>
<path d="M166.1 680.3L174.9 675.3L174.9 685.2Z" fill="#1414f2"/>
<path d="M176.6 690.8L185.4 685.8L185.4 695.8Z" fill="#1414f2"/>
<path d="M189.8 703.1L198.6 698.1L198.6 708.1Z" fill="#1414f2"/>
<path d="M199.4 717.1L208.2 712.1L208.2 722.1Z" fill="#1414f2"/>
<path d="M209.9 722.3L218.8 717.3L218.8 727.2Z" fill="#1414f2"/>
<path d="M227.5 738.1L236.3 733.1L236.3 743.1Z" fill="#1414f2"/>
<path d="M227.8 738.5L236.6 733.5L236.6 743.5Z" fill="#1414f2"/>
<path d="M234.5 752.1L243.3 747.1L243.3 757.1Z" fill="#1414f2"/>
<path d="M249.5 756.1L258.4 751.1L258.4 761.1Z" fill="#1414f2"/>
<path d="M265.6 768.2L274.4 763.2L274.4 773.2Z" fill="#1414f2"/>
<path d="M271.9 774.6L280.8 769.6L280.8 779.6Z" fill="#1414f2"/>
<path d="M284.8 786.6L293.6 781.6L293.6 791.6Z" fill="#1414f2"/>
<path d="M295.2 789.9L304.1 784.9L304.1 794.9Z" fill="#1414f2"/>
<path d="M304.9 805.9L313.8 800.9L313.8 810.9Z" fill="#1414f2"/>
<circle cx="140.8" cy="657.5" r="4.6" fill="#1b8c1b"/>
<circle cx="146" cy="662" r="4.6" fill="#1b8c1b"/>
<circle cx="154.8" cy="666.3" r="4.6" fill="#1b8c1b"/>
<circle cx="160" cy="673.3" r="4.6" fill="#1b8c1b"/>
<circle cx="171.4" cy="684.7" r="4.6" fill="#1b8c1b"/>
<circle cx="175" cy="689" r="4.6" fill="#1b8c1b"/>
<circle cx="182.8" cy="694.3" r="4.6" fill="#1b8c1b"/>
<circle cx="190.7" cy="705.7" r="4.6" fill="#1b8c1b"/>
<circle cx="196.8" cy="710.1" r="4.6" fill="#1b8c1b"/>
<circle cx="203" cy="728.5" r="4.6" fill="#1b8c1b"/>
<circle cx="213.5" cy="732" r="4.6" fill="#1b8c1b"/>
<circle cx="242.4" cy="746.9" r="4.6" fill="#1b8c1b"/>
<circle cx="244.3" cy="747.3" r="4.6" fill="#1b8c1b"/>
<circle cx="259.5" cy="757.7" r="4.6" fill="#1b8c1b"/>
<circle cx="264.3" cy="761.8" r="4.6" fill="#1b8c1b"/>
<circle cx="282" cy="778.6" r="4.6" fill="#1b8c1b"/>
<circle cx="302.1" cy="793.1" r="4.6" fill="#1b8c1b"/>
<circle cx="312.5" cy="799.5" r="4.6" fill="#1b8c1b"/>
<circle cx="332.8" cy="845" r="4.6" fill="#1b8c1b"/>
<circle cx="342" cy="847.6" r="4.6" fill="#1b8c1b"/>
<circle cx="359.1" cy="851" r="4.6" fill="#1b8c1b"/>
<circle cx="373.6" cy="853.6" r="4.6" fill="#1b8c1b"/>
<circle cx="380.1" cy="853.6" r="4.6" fill="#1b8c1b"/>
<circle cx="393.3" cy="861.5" r="4.6" fill="#1b8c1b"/>
<circle cx="401.2" cy="864.1" r="4.6" fill="#1b8c1b"/>
<circle cx="426.1" cy="880.4" r="4.6" fill="#1b8c1b"/>
<circle cx="434" cy="873.9" r="4.6" fill="#1b8c1b"/>
<circle cx="445.8" cy="881.7" r="4.6" fill="#1b8c1b"/>
<circle cx="460.3" cy="881.7" r="4.6" fill="#1b8c1b"/>
<circle cx="461.3" cy="884.2" r="4.6" fill="#1b8c1b"/>
<circle cx="477.1" cy="885.5" r="4.6" fill="#1b8c1b"/>
<circle cx="488.9" cy="886.8" r="4.6" fill="#1b8c1b"/>
<circle cx="496.8" cy="889.4" r="4.6" fill="#1b8c1b"/>
<circle cx="507.3" cy="892" r="4.6" fill="#1b8c1b"/>
<circle cx="512.5" cy="892.6" r="4.6" fill="#1b8c1b"/>
<circle cx="518" cy="893" r="4.6" fill="#1b8c1b"/>
<circle cx="523.1" cy="894.1" r="4.6" fill="#1b8c1b"/>
<circle cx="531" cy="896" r="4.6" fill="#1b8c1b"/>
<circle cx="538.8" cy="897.3" r="4.6" fill="#1b8c1b"/>
<path d="M321.9 843.6L330.8 838.6L330.8 848.6Z" fill="#1414f2"/>
<path d="M337.6 850.2L346.4 845.2L346.4 855.2Z" fill="#1414f2"/>
<path d="M365.2 858.9L374.1 853.9L374.1 863.9Z" fill="#1414f2"/>
<path d="M407.2 869.9L416.1 864.9L416.1 874.9Z" fill="#1414f2"/>
<path d="M417.8 872.5L426.6 867.5L426.6 877.5Z" fill="#1414f2"/>
<path d="M432.2 880.4L441.1 875.4L441.1 885.4Z" fill="#1414f2"/>
<path d="M447.9 885.7L456.8 880.8L456.8 890.7Z" fill="#1414f2"/>
<path d="M461.1 887L469.9 882L469.9 892Z" fill="#1414f2"/>
<path d="M462.2 886.8L471.1 881.8L471.1 891.8Z" fill="#1414f2"/>
<path d="M479.2 886.8L488.1 881.8L488.1 891.8Z" fill="#1414f2"/>
<path d="M492.4 888.1L501.2 883.1L501.2 893.1Z" fill="#1414f2"/>
<path d="M542.2 897.3L551.2 892.3L551.2 902.2Z" fill="#1414f2"/>
<path d="M556.8 901.2L565.7 896.2L565.7 906.2Z" fill="#1414f2"/>
<path d="M571.1 902.5L580.1 897.5L580.1 907.5Z" fill="#1414f2"/>
<path d="M596.1 909.1L605.1 904.1L605.1 914.1Z" fill="#1414f2"/>
<path d="M606.6 909.9L615.6 904.9L615.6 914.9Z" fill="#1414f2"/>
<path d="M613.1 910.4L622.1 905.4L622.1 915.4Z" fill="#1414f2"/>
<path d="M141.6 642.6L146.8 651.4L136.4 651.4Z" fill="#ee1c24"/>
<path d="M146 653.1L151.2 661.9L140.8 661.9Z" fill="#ee1c24"/>
<path d="M151.3 661.9L156.5 670.7L146.2 670.7Z" fill="#ee1c24"/>
<path d="M157.4 670.6L162.6 679.4L152.2 679.4Z" fill="#ee1c24"/>
<path d="M161.8 675.9L167 684.7L156.7 684.7Z" fill="#ee1c24"/>
<path d="M178.4 689.9L183.6 698.7L173.2 698.7Z" fill="#ee1c24"/>
<path d="M191.6 696L196.8 704.8L186.4 704.8Z" fill="#ee1c24"/>
<path d="M203.8 707.4L209 716.2L198.7 716.2Z" fill="#ee1c24"/>
<path d="M219.6 726.7L224.8 735.5L214.4 735.5Z" fill="#ee1c24"/>
<path d="M228.4 735.5L233.6 744.3L223.2 744.3Z" fill="#ee1c24"/>
<path d="M251.5 745.3L256.6 754.1L246.3 754.1Z" fill="#ee1c24"/>
<path d="M268.4 754.9L273.5 763.7L263.2 763.7Z" fill="#ee1c24"/>
<path d="M273.2 764.6L278.3 773.4L268.1 773.4Z" fill="#ee1c24"/>
<path d="M291.6 775L296.8 783.8L286.5 783.8Z" fill="#ee1c24"/>
<path d="M303.7 800.7L308.8 809.5L298.6 809.5Z" fill="#ee1c24"/>
<path d="M321.4 801.5L326.5 810.3L316.2 810.3Z" fill="#ee1c24"/>
<path d="M319.7 844.5L324.8 853.3L314.6 853.3Z" fill="#ee1c24"/>
<path d="M356.5 851.1L361.6 859.9L351.4 859.9Z" fill="#ee1c24"/>
<path d="M377.5 854.5L382.6 863.3L372.4 863.3Z" fill="#ee1c24"/>
<path d="M386.7 862.4L391.8 871.2L381.6 871.2Z" fill="#ee1c24"/>
<path d="M407.7 859.7L412.8 868.5L402.6 868.5Z" fill="#ee1c24"/>
<path d="M430.1 865.5L435.2 874.3L425 874.3Z" fill="#ee1c24"/>
<path d="M443.2 869.5L448.3 878.3L438.1 878.3Z" fill="#ee1c24"/>
<path d="M451.1 870.8L456.2 879.6L446 879.6Z" fill="#ee1c24"/>
<path d="M457.6 870.8L462.8 879.6L452.5 879.6Z" fill="#ee1c24"/>
<path d="M461.3 870.6L466.4 879.4L456.2 879.4Z" fill="#ee1c24"/>
<path d="M464.2 869.5L469.3 878.3L459.1 878.3Z" fill="#ee1c24"/>
<path d="M467.9 871.9L473 880.7L462.8 880.7Z" fill="#ee1c24"/>
<path d="M141.5 642.1L146.7 650.9L136.3 650.9Z" fill="#ee1c24"/>
<path d="M142.9 644.1L148.1 652.9L137.8 652.9Z" fill="#ee1c24"/>
<path d="M144.4 646.2L149.5 655L139.2 655Z" fill="#ee1c24"/>
<path d="M145.8 648.2L151 657L140.7 657Z" fill="#ee1c24"/>
<path d="M147.3 650.2L152.4 659L142.1 659Z" fill="#ee1c24"/>
<path d="M148.7 652.2L153.9 661L143.6 661Z" fill="#ee1c24"/>
<path d="M150.1 654.3L155.3 663.1L145 663.1Z" fill="#ee1c24"/>
<path d="M151.6 656.3L156.7 665.1L146.4 665.1Z" fill="#ee1c24"/>
<path d="M153 658.3L158.2 667.1L147.9 667.1Z" fill="#ee1c24"/>
<path d="M154.5 660.4L159.6 669.2L149.3 669.2Z" fill="#ee1c24"/>
<path d="M155.9 662.4L161.1 671.2L150.8 671.2Z" fill="#ee1c24"/>
<path d="M157.4 664.4L162.5 673.2L152.2 673.2Z" fill="#ee1c24"/>
<path d="M158.8 666.5L163.9 675.3L153.6 675.3Z" fill="#ee1c24"/>
<path d="M160.2 668.5L165.4 677.3L155.1 677.3Z" fill="#ee1c24"/>
<path d="M161.7 670.5L166.8 679.3L156.5 679.3Z" fill="#ee1c24"/>
<path d="M163.1 672.5L168.3 681.3L158 681.3Z" fill="#ee1c24"/>
<path d="M164.6 674.6L169.7 683.4L159.4 683.4Z" fill="#ee1c24"/>
<path d="M166 676.6L171.2 685.4L160.8 685.4Z" fill="#ee1c24"/>
<path d="M427.4 866L432.5 874.8L422.2 874.8Z" fill="#ee1c24"/>
<path d="M433 866.6L438.1 875.4L427.9 875.4Z" fill="#ee1c24"/>
<path d="M440 869.1L445.1 877.9L434.9 877.9Z" fill="#ee1c24"/>
<path d="M444 869.6L449.1 878.4L438.9 878.4Z" fill="#ee1c24"/>
<path d="M448 870.1L453.1 878.9L442.9 878.9Z" fill="#ee1c24"/>
<path d="M452 870.6L457.1 879.4L446.9 879.4Z" fill="#ee1c24"/>
<path d="M456 870.6L461.1 879.4L450.9 879.4Z" fill="#ee1c24"/>
<path d="M460 870.1L465.1 878.9L454.9 878.9Z" fill="#ee1c24"/>
<path d="M464 870.1L469.1 878.9L458.9 878.9Z" fill="#ee1c24"/>
<path d="M468 871.1L473.1 879.9L462.9 879.9Z" fill="#ee1c24"/>
<polyline points="129.4,651.2 142.5,664.5 160,684.2 170,694.4 179.9,704.3 190,714.1 201.7,723.4 213.4,733.4 225,743.9 240,755.5 254.6,766.8 269.2,777.7 283.8,786.9 290,790.5 305.3,799.8 323.8,809.9" fill="none" stroke="#000" stroke-width="2.2" stroke-linejoin="round"/>
<polyline points="314.5,846.3 339.4,854.2 365.7,862 392,868.6 418.2,874.5 444.5,880.8 470,887.5 486.3,892 512.5,897.3 538.8,900.4 565.1,903.9 591.4,906.5 605.8,907.3" fill="none" stroke="#000" stroke-width="2.2" stroke-linejoin="round"/>
<polyline points="93.7,580.2 101.3,592.6 110,606.6 118.8,620.6 127.6,634.6 133.8,642.6 142.5,654 151.3,662.8 160,673.3 168.8,682.9 177.6,694.3 186.3,702.2 195.1,709.2 203.8,717.1 212.6,724.1 223.1,732.9 237.1,744.1 253,755 270,766 290,779 305,792 321.4,805.9" fill="none" stroke="#000" stroke-width="2.1" stroke-dasharray="0 5.3" stroke-linecap="round"/>
<polyline points="325,840.5 352.5,848.4 378.8,856.8 405.1,864.7 431.4,871.2 460,878.9 486.3,884.2 512.5,889.4 538.8,893.4 565.1,898.6 591.4,902.5 617.6,904.7 640,907.8 653.7,909.5" fill="none" stroke="#000" stroke-width="2.1" stroke-dasharray="0 5.25" stroke-linecap="round"/>
<text x="78.5" y="743" font-family="'Liberation Sans', sans-serif" font-size="22" text-anchor="start" fill="#111" font-style="italic">dhcp</text>
<text x="141.5" y="784.4" font-family="'Liberation Sans', sans-serif" font-size="22" text-anchor="start" fill="#111" font-style="italic">fcc</text>
<text x="224" y="820.5" font-family="'Liberation Sans', sans-serif" font-size="22" text-anchor="start" fill="#111" font-style="italic">d-fcc</text>
<g fill="#111" stroke="#111" stroke-width="0.30" transform="translate(472.4,928.1) scale(1.010)"><path fill-rule="evenodd" d="M0 6.6a5.4 6.6 0 1 0 10.8 0a5.4 6.6 0 1 0 -10.8 0ZM2.2 6.6a3.8 5.6 0 1 0 7.6 0a3.8 5.6 0 1 0 -7.6 0Z"/><path d="M12.4 0.5L14.6 0.3L11.5 8.6L10.3 8.3Z"/><path d="M10.9 8.2C10.3 10.5 10.9 12.7 12.3 12.7C13.5 12.7 14.6 11.5 15.5 9.6" fill="none" stroke="#111" stroke-width="1.4" stroke-linecap="round"/></g>
<text x="488.3" y="941.4" font-family="'Liberation Sans', sans-serif" font-size="22" text-anchor="start" fill="#111">-U</text>
<g transform="translate(331.5,735.8) rotate(-90)"><text x="0" y="0" font-family="'Liberation Sans', sans-serif" font-size="17.5" text-anchor="start" fill="#111" font-style="italic">d-fcc</text><text x="43.8" y="0" font-family="'Liberation Sans', sans-serif" font-size="17.5" text-anchor="start" fill="#111">&amp;</text><g fill="#111" stroke="#111" stroke-width="0.51" transform="translate(62.3,-7.9) scale(0.590)"><path fill-rule="evenodd" d="M0 6.6a5.4 6.6 0 1 0 10.8 0a5.4 6.6 0 1 0 -10.8 0ZM2.2 6.6a3.8 5.6 0 1 0 7.6 0a3.8 5.6 0 1 0 -7.6 0Z"/><path d="M12.4 0.5L14.6 0.3L11.5 8.6L10.3 8.3Z"/><path d="M10.9 8.2C10.3 10.5 10.9 12.7 12.3 12.7C13.5 12.7 14.6 11.5 15.5 9.6" fill="none" stroke="#111" stroke-width="1.4" stroke-linecap="round"/></g><text x="71.7" y="0" font-family="'Liberation Sans', sans-serif" font-size="17.5" text-anchor="start" fill="#111">-U</text></g>
<rect x="420.6" y="549.5" width="239.2" height="250.4" fill="#fff"/>
<circle cx="429.8" cy="603.6" r="3.4" fill="#555555"/>
<circle cx="446.5" cy="619.2" r="3.4" fill="#555555"/>
<circle cx="446.1" cy="627.1" r="3.4" fill="#555555"/>
<circle cx="466.4" cy="641" r="3.4" fill="#555555"/>
<circle cx="493.1" cy="739.4" r="3.4" fill="#555555"/>
<circle cx="498.5" cy="744.1" r="3.4" fill="#555555"/>
<circle cx="525.8" cy="752.6" r="3.4" fill="#555555"/>
<circle cx="543.7" cy="757.2" r="3.4" fill="#555555"/>
<circle cx="568.9" cy="764.5" r="3.4" fill="#555555"/>
<circle cx="587.9" cy="774" r="3.4" fill="#555555"/>
<circle cx="590.7" cy="774.6" r="3.4" fill="#555555"/>
<circle cx="606.9" cy="774.4" r="3.4" fill="#555555"/>
<circle cx="448" cy="570.4" r="3.5" fill="#ee1c24"/>
<circle cx="471.7" cy="632.5" r="3.5" fill="#ee1c24"/>
<circle cx="504.4" cy="635.3" r="3.5" fill="#ee1c24"/>
<circle cx="504.7" cy="740.6" r="3.5" fill="#ee1c24"/>
<circle cx="576.5" cy="756.6" r="3.5" fill="#ee1c24"/>
<circle cx="620.1" cy="763.6" r="3.5" fill="#ee1c24"/>
<circle cx="637.8" cy="782" r="3.5" fill="#ee1c24"/>
<path d="M429.4 580.2L433.1 586.8L425.7 586.8Z" fill="#1414f2"/>
<path d="M441.3 585.5L445 592.1L437.6 592.1Z" fill="#1414f2"/>
<path d="M464.5 595.6L468.2 602.2L460.8 602.2Z" fill="#1414f2"/>
<path d="M482.9 626.3L486.6 632.9L479.2 632.9Z" fill="#1414f2"/>
<path d="M519.3 723L523 729.6L515.6 729.6Z" fill="#1414f2"/>
<path d="M541.8 732.5L545.5 739.1L538.1 739.1Z" fill="#1414f2"/>
<path d="M553.2 741.7L556.9 748.3L549.5 748.3Z" fill="#1414f2"/>
<path d="M606.9 757.8L610.6 764.4L603.2 764.4Z" fill="#1414f2"/>
<path d="M427.9 563.7L431.6 570.3L424.2 570.3Z" fill="#1b8c1b"/>
<path d="M468.9 600.1L472.6 606.7L465.2 606.7Z" fill="#1b8c1b"/>
<path d="M489.7 614.5L493.4 621.1L486 621.1Z" fill="#1b8c1b"/>
<path d="M528.8 723.7L532.5 730.3L525.1 730.3Z" fill="#1b8c1b"/>
<path d="M548.5 730L552.2 736.6L544.8 736.6Z" fill="#1b8c1b"/>
<path d="M582.2 740L585.9 746.6L578.5 746.6Z" fill="#1b8c1b"/>
<path d="M610.7 746.4L614.4 753L607 753Z" fill="#1b8c1b"/>
<path d="M624.5 747L628.2 753.6L620.8 753.6Z" fill="#1b8c1b"/>
<path d="M651.5 765.4L655.2 772L647.8 772Z" fill="#1b8c1b"/>
<polyline points="420.8,579.9 511,644.8" fill="none" stroke="#000" stroke-width="2.4"/>
<polyline points="492.6,731 543,750.4 659.5,788.2" fill="none" stroke="#000" stroke-width="2.4" stroke-linejoin="round"/>
<polyline points="424.6,561.2 466,595 507.6,629.6" fill="none" stroke="#000" stroke-width="2.5" stroke-dasharray="0 9.1" stroke-linecap="round"/>
<polyline points="514.5,718.2 545.9,734.7 569.3,745.5 653.4,772.1" fill="none" stroke="#000" stroke-width="2.5" stroke-dasharray="0 8.9" stroke-linecap="round"/>
<path d="M444.5 799.9v-4.2M444.5 549.5v4.2M468.4 799.9v-2.4M468.4 549.5v2.4M492.4 799.9v-4.2M492.4 549.5v4.2M516.3 799.9v-2.4M516.3 549.5v2.4M540.2 799.9v-4.2M540.2 549.5v4.2M564.1 799.9v-2.4M564.1 549.5v2.4M588 799.9v-4.2M588 549.5v4.2M612 799.9v-2.4M612 549.5v2.4M635.9 799.9v-4.2M635.9 549.5v4.2M420.6 799.2h4.2M659.8 799.2h-4.2M420.6 775.2h2.4M659.8 775.2h-2.4M420.6 751.1h4.2M659.8 751.1h-4.2M420.6 727.1h2.4M659.8 727.1h-2.4M420.6 703h4.2M659.8 703h-4.2M420.6 679h2.4M659.8 679h-2.4M420.6 654.9h4.2M659.8 654.9h-4.2M420.6 630.9h2.4M659.8 630.9h-2.4M420.6 606.8h4.2M659.8 606.8h-4.2M420.6 582.8h2.4M659.8 582.8h-2.4M420.6 558.7h4.2M659.8 558.7h-4.2" stroke="#222" stroke-width="1" fill="none"/>
<rect x="420.6" y="549.5" width="239.2" height="250.4" fill="none" stroke="#333" stroke-width="1.1"/>
<text x="415.5" y="804.8" font-family="'Liberation Sans', sans-serif" font-size="16" text-anchor="end" fill="#111">18</text>
<text x="415.5" y="756.7" font-family="'Liberation Sans', sans-serif" font-size="16" text-anchor="end" fill="#111">19</text>
<text x="415.5" y="708.6" font-family="'Liberation Sans', sans-serif" font-size="16" text-anchor="end" fill="#111">20</text>
<text x="415.5" y="660.5" font-family="'Liberation Sans', sans-serif" font-size="16" text-anchor="end" fill="#111">21</text>
<text x="415.5" y="612.4" font-family="'Liberation Sans', sans-serif" font-size="16" text-anchor="end" fill="#111">22</text>
<text x="415.5" y="564.3" font-family="'Liberation Sans', sans-serif" font-size="16" text-anchor="end" fill="#111">23</text>
<text x="444.5" y="817.8" font-family="'Liberation Sans', sans-serif" font-size="16" text-anchor="middle" fill="#111">18</text>
<text x="492.4" y="817.8" font-family="'Liberation Sans', sans-serif" font-size="16" text-anchor="middle" fill="#111">20</text>
<text x="540.2" y="817.8" font-family="'Liberation Sans', sans-serif" font-size="16" text-anchor="middle" fill="#111">22</text>
<text x="588" y="817.8" font-family="'Liberation Sans', sans-serif" font-size="16" text-anchor="middle" fill="#111">24</text>
<text x="635.9" y="817.8" font-family="'Liberation Sans', sans-serif" font-size="16" text-anchor="middle" fill="#111">26</text>
<rect x="163" y="551.6" width="125.4" height="75.2" fill="#fff" stroke="#5a5a5a" stroke-width="1.1"/>
<text x="165.4" y="564.3" font-family="'Liberation Sans', sans-serif" font-size="11.75" fill="#111"><tspan font-style="italic">d-fcc</tspan> to</text>
<g fill="#111" stroke="#111" stroke-width="0.71" transform="translate(207.6,559) scale(0.420)"><path fill-rule="evenodd" d="M0 6.6a5.4 6.6 0 1 0 10.8 0a5.4 6.6 0 1 0 -10.8 0ZM2.2 6.6a3.8 5.6 0 1 0 7.6 0a3.8 5.6 0 1 0 -7.6 0Z"/><path d="M12.4 0.5L14.6 0.3L11.5 8.6L10.3 8.3Z"/><path d="M10.9 8.2C10.3 10.5 10.9 12.7 12.3 12.7C13.5 12.7 14.6 11.5 15.5 9.6" fill="none" stroke="#111" stroke-width="1.4" stroke-linecap="round"/></g>
<text x="214" y="564.3" font-family="'Liberation Sans', sans-serif" font-size="11.8" text-anchor="start" fill="#111">-U vol change</text>
<text x="195.6" y="579.6" font-family="'Liberation Sans', sans-serif" font-size="11.5" text-anchor="start" fill="#111">10.1%</text>
<text x="195.6" y="593.8" font-family="'Liberation Sans', sans-serif" font-size="11.5" text-anchor="start" fill="#111">11.0%</text>
<text x="195.6" y="608" font-family="'Liberation Sans', sans-serif" font-size="11.5" text-anchor="start" fill="#111">10.7%</text>
<text x="195.6" y="622.2" font-family="'Liberation Sans', sans-serif" font-size="11.5" text-anchor="start" fill="#111">9.7%</text>
<path d="M178.3 569.7L184.1 575.5L178.3 581.3L172.5 575.5Z" fill="#1c1c8c"/>
<circle cx="178.3" cy="589.8" r="4.7" fill="#1b8c1b"/>
<path d="M178.3 599.4L183.4 608.2L173.2 608.2Z" fill="#ee1c24"/>
<path d="M173.6 618.3L183.1 613.2L183.1 623.4Z" fill="#1414f2"/>
<rect x="91.4" y="860.7" width="189.9" height="101.5" fill="#fff" stroke="#7a7a7a" stroke-width="1.2"/>
<text x="126.6" y="874.8" font-family="'Liberation Sans', sans-serif" font-size="13.2" text-anchor="start" fill="#111">Exp. 2 Run 5, 41 GPa/s</text>
<text x="126.6" y="891" font-family="'Liberation Sans', sans-serif" font-size="13.2" text-anchor="start" fill="#111">Exp. 2 Run 1, 656 GPa/s</text>
<text x="126.6" y="907.2" font-family="'Liberation Sans', sans-serif" font-size="13.2" text-anchor="start" fill="#111">Exp. 2 Run 3, 947 GPa/s</text>
<text x="126.6" y="923.4" font-family="'Liberation Sans', sans-serif" font-size="13.2" text-anchor="start" fill="#111">Exp. 4 Run 1, 1547 GPa/s</text>
<text x="126.6" y="939.6" font-family="'Liberation Sans', sans-serif" font-size="13.2" text-anchor="start" fill="#111">300 K Baer et al. 2003</text>
<text x="126.6" y="955.8" font-family="'Liberation Sans', sans-serif" font-size="13.2" text-anchor="start" fill="#111">540 K Baer et al. 2003</text>
<path d="M108.9 864.9L114.7 870.7L108.9 876.5L103.1 870.7Z" fill="#1c1c8c"/>
<circle cx="108.8" cy="887" r="4.6" fill="#1b8c1b"/>
<path d="M108.8 898.2L114 907L103.6 907Z" fill="#ee1c24"/>
<path d="M102.6 919.8L112 914.3L112 925.3Z" fill="#1414f2"/>
<path d="M93.8 936H123.6" stroke="#000" stroke-width="2.2"/>
<path d="M95 952H123.6" stroke="#000" stroke-width="2" stroke-dasharray="0 5" stroke-linecap="round"/>
<path d="M75.3 974.3v-8M75.3 536.5v8M105.1 974.3v-4M105.1 536.5v4M134.9 974.3v-8M134.9 536.5v8M164.7 974.3v-4M164.7 536.5v4M194.6 974.3v-8M194.6 536.5v8M224.4 974.3v-4M224.4 536.5v4M254.2 974.3v-8M254.2 536.5v8M284 974.3v-4M284 536.5v4M313.8 974.3v-8M313.8 536.5v8M343.6 974.3v-4M343.6 536.5v4M373.5 974.3v-8M373.5 536.5v8M403.3 974.3v-4M403.3 536.5v4M433.1 974.3v-8M433.1 536.5v8M462.9 974.3v-4M462.9 536.5v4M492.7 974.3v-8M492.7 536.5v8M522.5 974.3v-4M522.5 536.5v4M552.3 974.3v-8M552.3 536.5v8M582.2 974.3v-4M582.2 536.5v4M612 974.3v-8M612 536.5v8M641.8 974.3v-4M641.8 536.5v4M671.6 974.3v-8M671.6 536.5v8M75.3 974.3h4M671.6 974.3h-4M75.3 954.4h8M671.6 954.4h-8M75.3 934.5h4M671.6 934.5h-4M75.3 914.6h8M671.6 914.6h-8M75.3 894.7h4M671.6 894.7h-4M75.3 874.8h8M671.6 874.8h-8M75.3 854.9h4M671.6 854.9h-4M75.3 835h8M671.6 835h-8M75.3 815.1h4M671.6 815.1h-4M75.3 795.2h8M671.6 795.2h-8M75.3 775.3h4M671.6 775.3h-4M75.3 755.4h8M671.6 755.4h-8M75.3 735.5h4M671.6 735.5h-4M75.3 715.6h8M671.6 715.6h-8M75.3 695.7h4M671.6 695.7h-4M75.3 675.8h8M671.6 675.8h-8M75.3 655.9h4M671.6 655.9h-4M75.3 636h8M671.6 636h-8M75.3 616.1h4M671.6 616.1h-4M75.3 596.2h8M671.6 596.2h-8M75.3 576.3h4M671.6 576.3h-4M75.3 556.4h8M671.6 556.4h-8M75.3 536.5h4M671.6 536.5h-4" stroke="#111" stroke-width="1.5" fill="none"/>
<rect x="75.3" y="536.5" width="596.3" height="437.8" fill="none" stroke="#111" stroke-width="1.6"/>
<text x="66.4" y="958.9" font-family="'Liberation Sans', sans-serif" font-size="17.3" text-anchor="end" fill="#111">14</text>
<text x="66.4" y="919.2" font-family="'Liberation Sans', sans-serif" font-size="17.3" text-anchor="end" fill="#111">16</text>
<text x="66.4" y="879.4" font-family="'Liberation Sans', sans-serif" font-size="17.3" text-anchor="end" fill="#111">18</text>
<text x="66.4" y="839.7" font-family="'Liberation Sans', sans-serif" font-size="17.3" text-anchor="end" fill="#111">20</text>
<text x="66.4" y="800" font-family="'Liberation Sans', sans-serif" font-size="17.3" text-anchor="end" fill="#111">22</text>
<text x="66.4" y="760.2" font-family="'Liberation Sans', sans-serif" font-size="17.3" text-anchor="end" fill="#111">24</text>
<text x="66.4" y="720.5" font-family="'Liberation Sans', sans-serif" font-size="17.3" text-anchor="end" fill="#111">26</text>
<text x="66.4" y="680.8" font-family="'Liberation Sans', sans-serif" font-size="17.3" text-anchor="end" fill="#111">28</text>
<text x="66.4" y="641.1" font-family="'Liberation Sans', sans-serif" font-size="17.3" text-anchor="end" fill="#111">30</text>
<text x="66.4" y="601.3" font-family="'Liberation Sans', sans-serif" font-size="17.3" text-anchor="end" fill="#111">32</text>
<text x="66.4" y="561.6" font-family="'Liberation Sans', sans-serif" font-size="17.3" text-anchor="end" fill="#111">34</text>
<text x="75.3" y="996.4" font-family="'Liberation Sans', sans-serif" font-size="17.3" text-anchor="middle" fill="#111">0</text>
<text x="134.9" y="996.4" font-family="'Liberation Sans', sans-serif" font-size="17.3" text-anchor="middle" fill="#111">5</text>
<text x="194.6" y="996.4" font-family="'Liberation Sans', sans-serif" font-size="17.3" text-anchor="middle" fill="#111">10</text>
<text x="254.2" y="996.4" font-family="'Liberation Sans', sans-serif" font-size="17.3" text-anchor="middle" fill="#111">15</text>
<text x="313.8" y="996.4" font-family="'Liberation Sans', sans-serif" font-size="17.3" text-anchor="middle" fill="#111">20</text>
<text x="373.5" y="996.4" font-family="'Liberation Sans', sans-serif" font-size="17.3" text-anchor="middle" fill="#111">25</text>
<text x="433.1" y="996.4" font-family="'Liberation Sans', sans-serif" font-size="17.3" text-anchor="middle" fill="#111">30</text>
<text x="492.7" y="996.4" font-family="'Liberation Sans', sans-serif" font-size="17.3" text-anchor="middle" fill="#111">35</text>
<text x="552.3" y="996.4" font-family="'Liberation Sans', sans-serif" font-size="17.3" text-anchor="middle" fill="#111">40</text>
<text x="612" y="996.4" font-family="'Liberation Sans', sans-serif" font-size="17.3" text-anchor="middle" fill="#111">45</text>
<text x="671.6" y="996.4" font-family="'Liberation Sans', sans-serif" font-size="17.3" text-anchor="middle" fill="#111">50</text>
<text x="373.9" y="1022.2" font-family="'Liberation Sans', sans-serif" font-size="22.1" text-anchor="middle" fill="#111">Pressure (GPa)</text>
<text transform="translate(21,746.8) rotate(-90)" x="0" y="0" font-family="'Liberation Sans', sans-serif" font-size="22" text-anchor="middle" fill="#111">Volume/Atom (&#197;<tspan font-size="14" dy="-8">3</tspan><tspan dy="8">)</tspan></text>
<text x="1.6" y="547.8" font-family="'Liberation Sans', sans-serif" font-size="28.3" text-anchor="start" fill="#111" letter-spacing="0.8">(b)</text>
</svg>
</body></html>
